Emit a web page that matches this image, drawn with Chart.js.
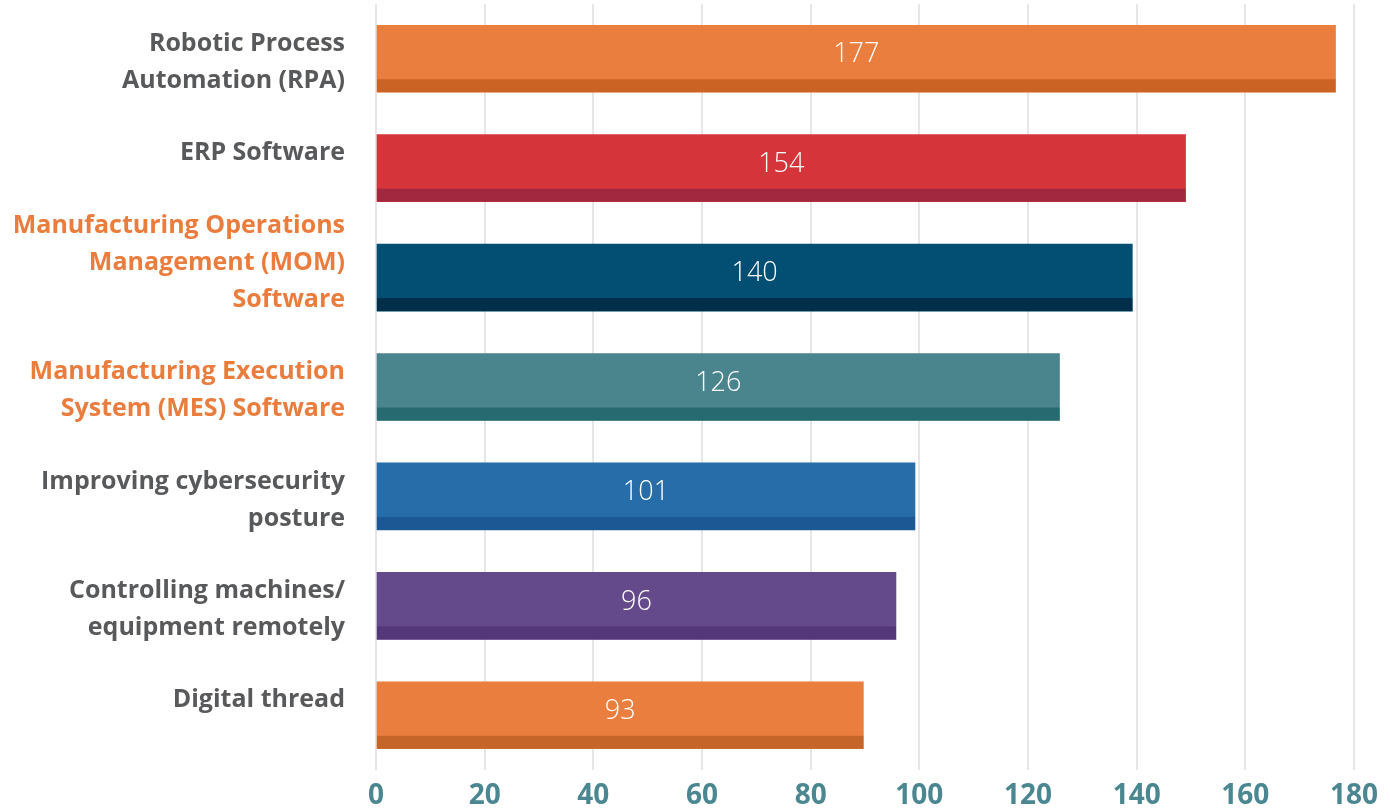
<!DOCTYPE html>
<html>
<head>
<meta charset="utf-8">
<script src="https://cdn.jsdelivr.net/npm/chart.js@4"></script>
<style>
  html, body { margin: 0; padding: 0; background: #fff; }
  .wrap { width: 1390px; height: 810px; position: relative; }
</style>
</head>
<body>
<div class="wrap"><canvas id="chart"></canvas></div>
<script>
const categories = [
  ['Robotic Process', 'Automation (RPA)'],
  ['ERP Software'],
  ['Manufacturing Operations', 'Management (MOM)', 'Software'],
  ['Manufacturing Execution', 'System (MES) Software'],
  ['Improving cybersecurity', 'posture'],
  ['Controlling machines/', 'equipment remotely'],
  ['Digital thread']
];
// bar lengths as drawn, and the numbers printed on them
const barLengths  = [176.6, 149, 139.2, 125.8, 99.2, 95.7, 89.7];
const valueLabels = ['177', '154', '140', '126', '101', '96', '93'];
const xTicks = [0, 20, 40, 60, 80, 100, 120, 140, 160, 180];

const barColors   = ['#E97E3F', '#D6343B', '#034F73', '#4A858D', '#266DAA', '#654A8B', '#E97E3F'];
const stripColors = ['#CB6325', '#A22840', '#012F4A', '#276A6F', '#1C5893', '#533779', '#C66529'];
const labelColors = ['#58595B', '#58595B', '#EA7D3E', '#EA7D3E', '#58595B', '#58595B', '#58595B'];

const STRIP = 13;
const LINE_H = 37;

const barExtras = {
  id: 'barExtras',
  afterDatasetsDraw(chart) {
    const ctx = chart.ctx;
    const meta = chart.getDatasetMeta(0);
    const yScale = chart.scales.y;
    ctx.save();
    meta.data.forEach((bar, i) => {
      const { x, y, base, height } = bar.getProps(['x', 'y', 'base', 'height'], true);
      // darker strip along the bottom of the bar
      ctx.fillStyle = stripColors[i];
      ctx.fillRect(base, y + height / 2 - STRIP, x - base, STRIP);
      // value label
      ctx.fillStyle = '#ffffff';
      ctx.font = '300 27px "Open Sans", Lato, sans-serif';
      ctx.textAlign = 'center';
      ctx.textBaseline = 'middle';
      ctx.fillText(valueLabels[i], (base + x) / 2, y - 4);
    });

    // category labels on the left
    ctx.font = 'bold 25px "Open Sans", Lato, sans-serif';
    ctx.textAlign = 'right';
    ctx.textBaseline = 'middle';
    const right = chart.chartArea.left - 31;
    categories.forEach((lines, i) => {
      const cy = yScale.getPixelForValue(i);
      let ly = cy - 15 - Math.max(0, lines.length - 2) * LINE_H;
      ctx.fillStyle = labelColors[i];
      lines.forEach(line => {
        ctx.fillText(line, right, ly);
        ly += LINE_H;
      });
    });
    ctx.restore();
  }
};

new Chart(document.getElementById('chart'), {
  type: 'bar',
  data: {
    labels: categories.map(c => c.join(' ')),
    datasets: [{
      data: barLengths,
      backgroundColor: barColors,
      borderWidth: 0,
      barThickness: 67
    }]
  },
  options: {
    indexAxis: 'y',
    responsive: true,
    maintainAspectRatio: false,
    animation: false,
    layout: { padding: { left: 376, right: 36, top: 4, bottom: 0 } },
    plugins: {
      legend: { display: false },
      tooltip: { enabled: false }
    },
    scales: {
      x: {
        min: 0, max: 180,
        afterBuildTicks: axis => { axis.ticks = xTicks.map(v => ({ value: v })); },
        afterFit: axis => { axis.height = 40; },
        grid: { color: '#E6E6E6', lineWidth: 2, drawTicks: false },
        border: { display: false },
        ticks: {
          color: '#4A8790',
          padding: 12,
          font: { family: '"Open Sans", Lato, sans-serif', size: 28, weight: 'bold', lineHeight: 1 }
        }
      },
      y: {
        display: false
      }
    }
  },
  plugins: [barExtras]
});
</script>
</body>
</html>
